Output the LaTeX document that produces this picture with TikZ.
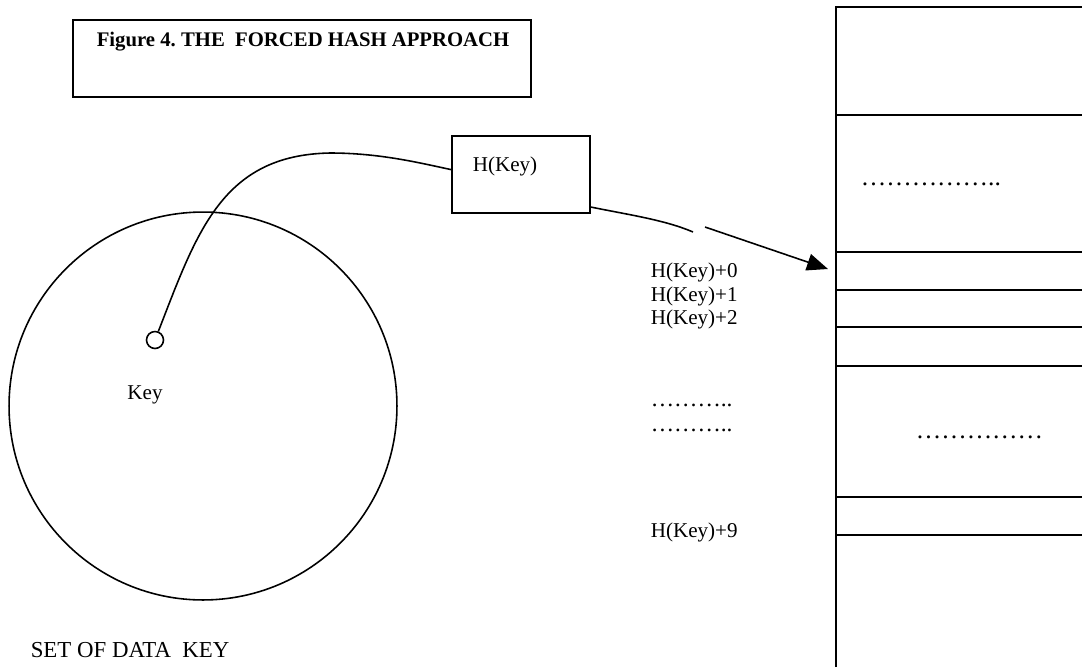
\documentclass[tikz,border=0pt]{standalone}
\usepackage{fontspec}
\setmainfont{Liberation Serif}
\usetikzlibrary{arrows.meta}
\frenchspacing

\begin{document}
\begin{tikzpicture}[x = 0.02cm, y = -0.02cm, line width = 0.9pt,
		lbl/.style = {anchor = west, inner sep = 0pt, font = \fontsize{12}{14}\selectfont}]
			\useasboundingbox (0,0) rectangle (1082,667);
			\node (tbox) at (302,58.5) [draw, minimum width = 9.16cm, minimum height = 1.54cm] {};
			\node (title) at (96,42) [lbl, font = \fontsize{11.8}{14}\selectfont\bfseries] {Figure 4. THE\ \ FORCED HASH APPROACH};
			\node (keyset) at (203,406) [circle, draw, minimum size = 7.76cm] {};
			\node (keydot) at (155,340) [circle, draw, inner sep = 0pt, minimum size = 0.34cm] {};
			\node (key) at (145,395) [lbl, anchor = center] {Key};
			\node (setname) at (30,650) [lbl, font = \fontsize{13}{15}\selectfont] {SET OF DATA\ \ KEY};
			\node (hbox) at (521,174.5) [draw, minimum width = 2.76cm, minimum height = 1.54cm] {};
			\node (hlbl) at (472,166) [lbl] {H(Key)};
			\node (h0) at (650,272) [lbl] {H(Key)+0};
			\node (h1) at (650,296) [lbl] {H(Key)+1};
			\node (h2) at (650,319) [lbl] {H(Key)+2};
			\node (hdotsA) at (650,405) [lbl, font = \fontsize{13.3}{15}\selectfont] {………..};
			\node (hdotsB) at (650,430) [lbl, font = \fontsize{13.3}{15}\selectfont] {………..};
			\node (h9) at (650,532) [lbl] {H(Key)+9};
			% hash table
			\draw (836,667) -- (836,7) -- (1082,7);
			\draw (836,115) -- (1082,115);
			\draw (836,252) -- (1082,252);
			\draw (836,290) -- (1082,290);
			\draw (836,327) -- (1082,327);
			\draw (836,366) -- (1082,366);
			\draw (836,497) -- (1082,497);
			\draw (836,535) -- (1082,535);
			\node (tdotsA) at (860,184) [lbl, font = \fontsize{14.5}{16}\selectfont] {……………..};
			\node (tdotsB) at (915,437) [lbl, font = \fontsize{14.5}{16}\selectfont] {……………};
			\coordinate (slot0) at (828,269);
			\coordinate (brkA) at (693,232);
			\coordinate (brkB) at (705,227);
			\draw (keydot) .. controls (197,232) and (222,155) .. (330,153) .. controls (380,153) and (420,163) .. (hbox.176);
			\draw (hbox.-25) .. controls (630,215) and (665,220) .. (brkA);
			\draw [-{Triangle[length = 0.42cm, width = 0.34cm]}] (brkB) -- (slot0);
\end{tikzpicture}
\end{document}
